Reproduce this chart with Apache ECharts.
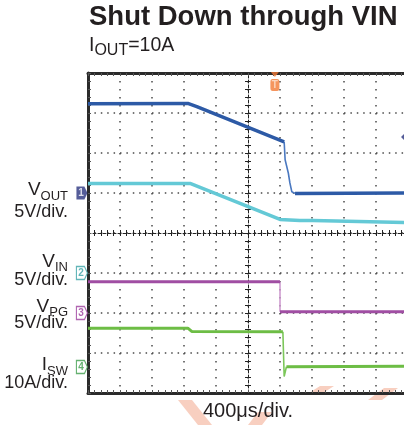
<!DOCTYPE html>
<html>
<head>
<meta charset="utf-8">
<script src="https://cdn.jsdelivr.net/npm/echarts@6/dist/echarts.min.js"></script>
<style>
html,body{margin:0;padding:0;background:#fff;}
#main{width:404px;height:425px;}
</style>
</head>
<body>
<div id="main"></div>
<script>
// time in divisions (400us/div), level in divisions from bottom of screen
var blueT   = [0, 3.12, 3.4, 6.13, 6.16, 6.26, 6.31, 6.37, 6.47, 10];
var blueV   = [7.23, 7.24, 7.16, 6.28, 5.83, 5.5, 5.25, 5.03, 4.99, 5.0];
var cyanT   = [0, 3.19, 6.0, 6.62, 7.03, 9.88, 10];
var cyanV   = [5.24, 5.24, 4.34, 4.31, 4.31, 4.26, 4.26];
var purpleT = [0, 6.0, 6.0, 10];
var purpleV = [2.78, 2.78, 2.03, 2.03];
var greenT  = [0, 3.12, 3.25, 6.09, 6.13, 6.2, 10];
var greenV  = [1.62, 1.62, 1.535, 1.53, 0.41, 0.655, 0.67];

// channel ground markers
var chanName  = ['1', '2', '3', '4'];
var chanLevel = [5.0, 3.0, 2.0, 0.65];
var chanColor = ['#2a3580', '#3aa3a6', '#9c3f9e', '#3e9e4c'];

var trigTime  = 5.84;
var trigLevel = 6.4;

var font = '"Liberation Sans", Arial, sans-serif';
var borderColor = '#2b2b2b', dotColor = '#4a4a4a';

function pairs(t, v) {
  return t.map(function (x, i) { return [x, v[i]]; });
}

var myChart = echarts.init(document.getElementById('main'), null, {renderer: 'canvas'});

function borderAxis(pos, split, dash) {
  return {
    type: 'value', min: 0, max: pos == 'left' ? 8 : 10, interval: 1, position: pos,
    axisLine: {show: true, onZero: false, lineStyle: {color: borderColor, width: 3}},
    axisTick: {show: true, inside: true, length: 3, lineStyle: {color: '#555', width: 1}},
    minorTick: {show: true, splitNumber: 5, length: 3, lineStyle: {color: '#555', width: 1}},
    axisLabel: {show: false},
    splitLine: {show: split, lineStyle: {color: dotColor, width: 1.5, type: dash}}
  };
}
function centerAxis(pos, inside, line) {
  return {
    type: 'value', min: 0, max: (pos == 'left') ? 8 : 10, interval: 1, position: pos, offset: -160,
    axisLine: {show: line, onZero: false, lineStyle: {color: '#222', width: 1, type: [3, 2]}},
    axisTick: {show: true, inside: inside, length: 3, lineStyle: {color: '#222', width: 1}},
    minorTick: {show: true, splitNumber: 5, length: 3, lineStyle: {color: '#222', width: 1}},
    axisLabel: {show: false},
    splitLine: {show: false}
  };
}

// a trace: flat parts thick, the fast edge (index e0..e1) thin like on the scope
function trace(t, v, e0, e1, color, edgeColor, w) {
  var all = pairs(t, v);
  var thick = all.slice(0, e0 + 1).concat([[null, null]], all.slice(e1));
  return [{
    type: 'line', data: thick, showSymbol: false, connectNulls: false,
    lineStyle: {color: color, width: w}, itemStyle: {color: color}, z: 5
  }, {
    type: 'line', data: all.slice(e0, e1 + 1), showSymbol: false,
    lineStyle: {color: edgeColor, width: 1.6}, itemStyle: {color: edgeColor}, z: 4
  }];
}

var markerData = chanLevel.map(function (lv, i) {
  var filled = i === 0;
  return {
    value: [-0.19, lv],
    itemStyle: filled ? {color: chanColor[i]} : {color: '#fff', borderColor: chanColor[i], borderWidth: 1.2},
    label: {color: filled ? '#fff' : chanColor[i]}
  };
});

function subLabel(x, y, main, sub, size, subSize, pad, align, tail) {
  return {
    type: 'text', x: x, y: y,
    style: {
      text: '{m|' + main + '}{s|' + sub + '}' + (tail ? '{m|' + tail + '}' : ''),
      align: align, verticalAlign: 'middle',
      rich: {
        m: {fontSize: size, fontFamily: font, fill: '#231f20'},
        s: {fontSize: subSize, fontFamily: font, fill: '#231f20', padding: [pad, 0, 0, 0]}
      }
    }
  };
}
function plain(x, y, txt, size, align, weight) {
  return {
    type: 'text', x: x, y: y,
    style: {text: txt, fontSize: size, fontFamily: font, fontWeight: weight || 'normal',
      fill: '#231f20', align: align, verticalAlign: 'middle'}
  };
}

var series = [].concat(
  trace(cyanT, cyanV, 5, 5, '#64c9d6', '#64c9d6', 3.5),
  trace(blueT, blueV, 3, 8, '#2d5aa6', '#4a78c0', 3.5),
  trace(purpleT, purpleV, 1, 2, '#a04ea3', '#cf9bd0', 3),
  trace(greenT, greenV, 3, 5, '#6dbd45', '#7cc75a', 3)
);
series.push({
  type: 'scatter', clip: false, z: 6,
  symbol: 'path://M0,0L8,0L11,6.5L8,13L0,13Z', symbolSize: [11, 13],
  data: markerData,
  label: {show: true, position: 'inside', offset: [-1, 0], fontSize: 10, fontWeight: 'bold',
    fontFamily: font, formatter: function (p) { return chanName[p.dataIndex]; }}
});
series.push({
  type: 'scatter', clip: false, z: 6,
  data: [
    {value: [trigTime, 7.96], symbol: 'triangle', symbolRotate: 180, symbolSize: [8, 5]},
    {value: [trigTime, 7.7], symbol: 'roundRect', symbolSize: [9, 12],
      label: {show: true, formatter: 'T', position: 'inside', color: '#fde3d3', fontSize: 10,
        fontWeight: 'bold', fontFamily: font}}
  ],
  itemStyle: {color: '#f37a36'}
});
series.push({
  type: 'scatter', clip: false, z: 6,
  data: [[9.97, trigLevel]], symbol: 'diamond', symbolSize: [12, 12],
  itemStyle: {color: '#2a3580'}
});

var wm = '#f8cfc0';
var option = {
  animation: false,
  backgroundColor: '#fff',
  grid: {left: 88, top: 73, width: 320, height: 320, containLabel: false, outerBoundsMode: 'none'},
  xAxis: [
    borderAxis('bottom', true, [1.5, 6.5]),
    borderAxis('top', false),
    centerAxis('bottom', true, true),
    centerAxis('bottom', false, false)
  ],
  yAxis: [
    borderAxis('left', true, [1.5, 4.9]),
    centerAxis('left', true, true),
    centerAxis('left', false, false)
  ],
  series: series,
  graphic: [
    {type: 'polygon', z: -1, shape: {points: [[178, 400], [192, 400], [212, 425], [198, 425]]},
      style: {fill: wm}},
    {type: 'polygon', z: -1, shape: {points: [[248, 425], [262, 425], [272, 412], [258, 412]]},
      style: {fill: wm}},
    {type: 'polygon', z: -1, shape: {points: [[306, 395], [320, 395], [334, 386], [320, 386]]},
      style: {fill: wm}},
    {type: 'polygon', z: -1, shape: {points: [[368, 400], [382, 400], [398, 388], [384, 388]]},
      style: {fill: wm}},
    plain(89, 17.5, 'Shut Down through VIN', 27.5, 'left', 'bold'),
    subLabel(89, 46, 'I', 'OUT', 19.5, 16, 10, 'left', '=10A'),
    subLabel(68, 190, 'V', 'OUT', 19, 13, 12, 'right'),
    plain(68, 211.7, '5V/div.', 18, 'right'),
    subLabel(68, 261.7, 'V', 'IN', 19, 13, 12, 'right'),
    plain(68, 280, '5V/div.', 18, 'right'),
    subLabel(68, 306.7, 'V', 'PG', 19, 13, 12, 'right'),
    plain(68, 323.3, '5V/div.', 18, 'right'),
    subLabel(68, 365, 'I', 'SW', 19, 13, 12, 'right'),
    plain(68, 382.7, '10A/div.', 18, 'right'),
    plain(248, 411.5, '400μs/div.', 20, 'center')
  ]
};
myChart.setOption(option);
</script>
</body>
</html>
